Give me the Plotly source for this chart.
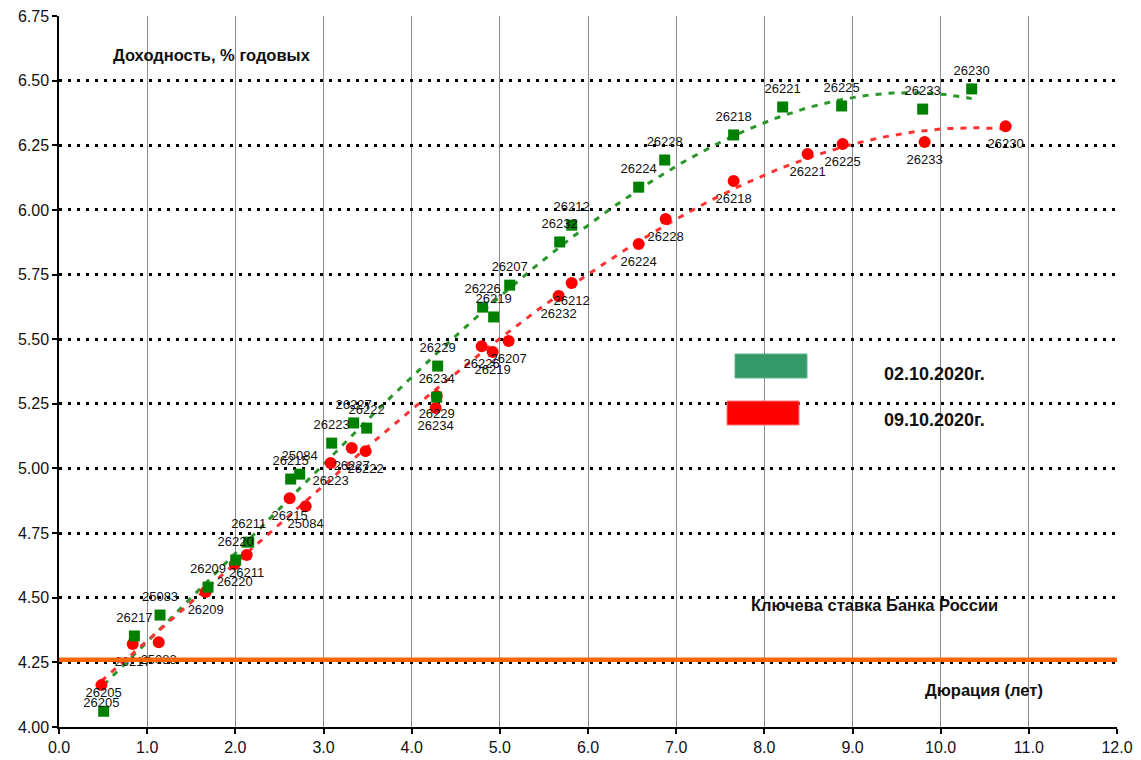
import numpy as np
import plotly.graph_objects as go

# ---------------- data ----------------
bond_ids = ["26205", "26217", "25083", "26209", "26220", "26211", "26215", "25084",
            "26223", "26227", "26222", "26229", "26234", "26226", "26219", "26207",
            "26232", "26212", "26224", "26228", "26218", "26221", "26225", "26233",
            "26230"]

# 02.10.2020 : duration (years) and yield (% p.a.)
dur_0210 = [0.507, 0.855, 1.146, 1.690, 2.004, 2.152, 2.628, 2.730, 3.093, 3.342,
            3.490, 4.295, 4.284, 4.805, 4.930, 5.112, 5.679, 5.815, 6.575, 6.870,
            7.652, 8.208, 8.877, 9.796, 10.352]
yld_0210 = [4.061, 4.352, 4.433, 4.541, 4.646, 4.715, 4.959, 4.978, 5.098, 5.176,
            5.156, 5.396, 5.276, 5.624, 5.586, 5.709, 5.876, 5.941, 6.088, 6.193,
            6.290, 6.398, 6.402, 6.390, 6.468]

# 09.10.2020
dur_0910 = [0.481, 0.836, 1.131, 1.664, 1.993, 2.129, 2.616, 2.798, 3.081, 3.320,
            3.478, 4.284, 4.272, 4.794, 4.919, 5.100, 5.667, 5.815, 6.575, 6.881,
            7.652, 8.491, 8.888, 9.818, 10.737]
yld_0910 = [4.162, 4.321, 4.328, 4.522, 4.630, 4.665, 4.885, 4.854, 5.021, 5.079,
            5.067, 5.280, 5.234, 5.473, 5.450, 5.493, 5.667, 5.717, 5.868, 5.965,
            6.112, 6.216, 6.255, 6.263, 6.324]

key_rate = 4.26

series_names = ["02.10.2020г.", "09.10.2020г."]
x_ticks = [0, 1, 2, 3, 4, 5, 6, 7, 8, 9, 10, 11, 12]
y_ticks = [4.00, 4.25, 4.50, 4.75, 5.00, 5.25, 5.50, 5.75, 6.00, 6.25, 6.50, 6.75]

# ---------------- layout geometry ----------------
W, H = 1141, 760
L, R, T, B = 59, 24, 16, 33
PW, PH = W - L - R, H - T - B


def fx(px):
    return (px - L) / PW


def fy(py):
    return 1 - (py - T) / PH


FONT = "Liberation Sans, Arial, sans-serif"
GREEN = "#008000"
RED = "#FF0000"

fig = go.Figure()


def trend(xs, ys, deg=3):
    c = np.polyfit(xs, ys, deg)
    xx = np.linspace(min(xs), max(xs), 200)
    return xx, np.polyval(c, xx)


tx, ty = trend(dur_0210, yld_0210)
fig.add_trace(go.Scatter(x=tx, y=ty, mode="lines", hoverinfo="skip",
                         line=dict(color="rgb(40,150,40)", width=3, dash="6px,7px")))
tx, ty = trend(dur_0910, yld_0910)
fig.add_trace(go.Scatter(x=tx, y=ty, mode="lines", hoverinfo="skip",
                         line=dict(color="rgb(255,50,50)", width=3, dash="6px,7px")))

# red first, green squares drawn on top (as in the reference)
fig.add_trace(go.Scatter(x=dur_0910, y=yld_0910, mode="markers", name=series_names[1],
                         marker=dict(symbol="circle", size=12, color=RED)))
fig.add_trace(go.Scatter(x=dur_0210, y=yld_0210, mode="markers", name=series_names[0],
                         marker=dict(symbol="square", size=11, color=GREEN)))

# data labels
fig.add_trace(go.Scatter(x=dur_0210, y=yld_0210, mode="markers+text", text=bond_ids,
                         textposition="top center", hoverinfo="skip",
                         textfont=dict(family=FONT, size=13, color="#111"),
                         marker=dict(size=16, color="rgba(0,0,0,0)")))
fig.add_trace(go.Scatter(x=dur_0910, y=yld_0910, mode="markers+text", text=bond_ids,
                         textposition="bottom center", hoverinfo="skip",
                         textfont=dict(family=FONT, size=13, color="#111"),
                         marker=dict(size=18, color="rgba(0,0,0,0)")))

shapes = []
# white boxes behind text (hide gridlines)
for (x0, y0, x1, y1) in [(100, 38, 335, 70), (818, 347, 1055, 443),
                         (703, 583, 1046, 622), (917, 672, 1047, 704)]:
    shapes.append(dict(type="rect", xref="paper", yref="paper",
                       x0=fx(x0), x1=fx(x1), y0=fy(y1), y1=fy(y0),
                       fillcolor="white", line=dict(width=0), layer="between"))
# legend swatches
shapes.append(dict(type="rect", xref="paper", yref="paper",
                   x0=fx(735), x1=fx(807), y0=fy(378), y1=fy(354),
                   fillcolor="rgb(51,153,102)", line=dict(color="rgb(95,180,138)", width=1),
                   layer="above"))
shapes.append(dict(type="rect", xref="paper", yref="paper",
                   x0=fx(727), x1=fx(799), y0=fy(425), y1=fy(401),
                   fillcolor="rgb(255,0,0)", line=dict(color="rgb(255,120,120)", width=1),
                   layer="above"))
# key rate line
shapes.append(dict(type="line", xref="x", yref="y", x0=x_ticks[0], x1=x_ticks[-1],
                   y0=key_rate, y1=key_rate,
                   line=dict(color="rgb(255,102,0)", width=4.5), layer="above"))

annotations = [
    dict(text="<b>Доходность, % годовых</b>", x=fx(212), y=fy(55), size=16.5),
    dict(text="<b>" + series_names[0] + "</b>", x=fx(934), y=fy(374), size=18),
    dict(text="<b>" + series_names[1] + "</b>", x=fx(934), y=fy(420), size=18),
    dict(text="<b>Ключева ставка Банка России</b>", x=fx(874), y=fy(605), size=16.5),
    dict(text="<b>Дюрация (лет)</b>", x=fx(984), y=fy(690), size=16.5),
]
for a in annotations:
    s = a.pop("size")
    a.update(xref="paper", yref="paper", showarrow=False, xanchor="center",
             yanchor="middle", font=dict(family=FONT, size=s, color="#111"))

fig.update_layout(
    width=W, height=H, autosize=False,
    margin=dict(l=L, r=R, t=T, b=B, pad=0),
    paper_bgcolor="white", plot_bgcolor="white",
    showlegend=False,
    font=dict(family=FONT, size=16, color="#111"),
    shapes=shapes, annotations=annotations,
    xaxis=dict(range=[x_ticks[0], x_ticks[-1]], tickvals=x_ticks, tickformat=".1f",
               automargin=False,
               showgrid=True, gridcolor="#8c8c8c", gridwidth=1, zeroline=False,
               showline=True, linecolor="black", linewidth=1.5,
               ticks="outside", ticklen=5, tickwidth=1.5, tickcolor="black",
               tickfont=dict(family=FONT, size=16, color="#111")),
    yaxis=dict(range=[y_ticks[0], y_ticks[-1]], tickvals=y_ticks, tickformat=".2f",
               automargin=False,
               showgrid=True, gridcolor="black", gridwidth=2.5, griddash="3px,6px",
               zeroline=False, showline=True, linecolor="black", linewidth=1.5,
               ticks="outside", ticklen=5, tickwidth=1.5, tickcolor="black",
               tickfont=dict(family=FONT, size=16, color="#111")),
)

fig.write_html("out.html", config={"displayModeBar": False},
               post_script="document.body.style.margin='0';document.body.style.overflow='hidden';")
